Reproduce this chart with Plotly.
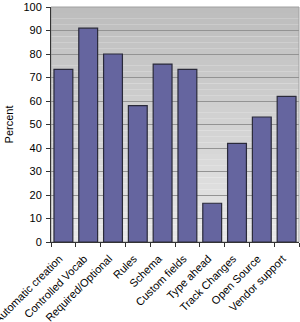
import plotly.graph_objects as go

categories = ["Automatic creation", "Controlled Vocab", "Required/Optional", "Rules",
              "Schema", "Custom fields", "Type ahead", "Track Changes", "Open Source",
              "Vendor support"]
values = [73.5, 91, 80, 58, 75.7, 73.5, 16.5, 42, 53.2, 62]
y_ticks = [0, 10, 20, 30, 40, 50, 60, 70, 80, 90, 100]

fig = go.Figure()
fig.add_trace(go.Bar(
    x=categories, y=values,
    marker=dict(color="#65659f", line=dict(color="#2a2a3a", width=1.2)),
))

# gradient background bands
shapes = []
n = 40
for i in range(n):
    t = i / (n - 1)
    c = int(round(0xe8 + (0xbd - 0xe8) * t))
    shapes.append(dict(type="rect", xref="paper", yref="paper",
                       x0=0, x1=1, y0=i / n, y1=(i + 1) / n,
                       fillcolor=f"rgb({c},{c},{c})", line=dict(width=0), layer="below"))
shapes.append(dict(type="rect", xref="paper", yref="paper", x0=0, x1=1, y0=0, y1=1,
                   fillcolor="rgba(0,0,0,0)", line=dict(color="#a0a0a0", width=1), layer="below"))

fig.update_layout(
    width=300, height=322,
    margin=dict(l=51, r=1, t=7, b=80),
    paper_bgcolor="white", plot_bgcolor="rgba(0,0,0,0)",
    bargap=0.24,
    showlegend=False,
    shapes=shapes,
    font=dict(family="Liberation Sans, Arial, sans-serif", size=11, color="#000"),
    yaxis=dict(range=[0, 100], tickvals=y_ticks, showgrid=True, gridcolor="#939393",
               gridwidth=1, showline=True, linecolor="#333", linewidth=1,
               ticks="outside", ticklen=4, tickcolor="#333",
               title=dict(text="Percent", font=dict(size=11), standoff=7),
               zeroline=False, layer="below traces", tickfont=dict(size=11),
               ticklabelstandoff=2, automargin=False),
    xaxis=dict(tickangle=-45, showline=True, linecolor="#333", linewidth=1,
               ticks="outside", ticklen=4, tickcolor="#333", tickson="boundaries",
               showgrid=False, tickfont=dict(size=11), ticklabelstandoff=5,
               ticklabelshift=-4, automargin=False),
)

fig.write_html("out.html")
